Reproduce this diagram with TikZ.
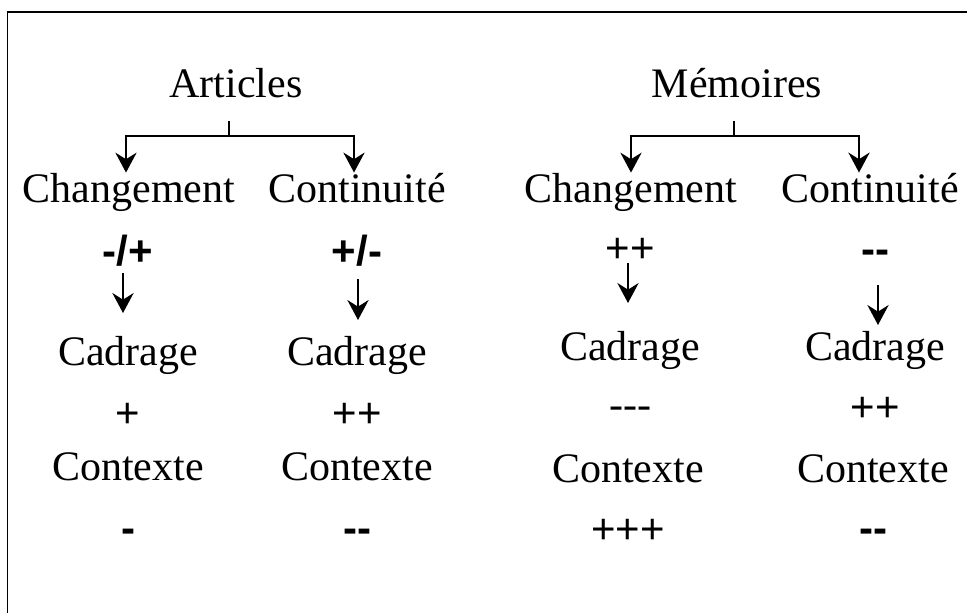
\documentclass[tikz,border=0pt]{standalone}
\usepackage{fontspec}
\setmainfont{Liberation Serif}[Ligatures=TeXOff]
\newfontfamily\sgnsans{Liberation Sans}[Ligatures=TeXOff]
\usetikzlibrary{arrows.meta}
\begin{document}
\begin{tikzpicture}[x=0.75pt,y=-0.75pt,
  lbl/.style={inner sep=0pt, anchor=base, font=\fontsize{31.5}{36}\selectfont},
  sgns/.style={lbl, font=\fontsize{31.5}{36}\selectfont\sgnsans},
  sgnb/.style={lbl, font=\fontsize{31.5}{36}\selectfont\sgnsans\bfseries},
  tree/.style={line width=1.1pt},
  tarrow/.style={tree, -{Stealth[length=15pt,width=16pt,inset=5pt]}},
  sarrow/.style={line width=0.9pt, -{Stealth[length=15pt,width=16pt,inset=5pt]}},
  frame/.style={line width=1pt}]
\useasboundingbox (0,0) rectangle (967,613);
% frame (top and left edges)
\draw[frame] (7.5,613) -- (7.5,12) -- (967,12);
% headers
\node[lbl] (art) at (236,98) {Articles};
\node[lbl] (mem) at (737,98) {Mémoires};
% level 1
\node[lbl] (ach) at (129,202) {Changement};
\node[lbl] (aco) at (357,202) {Continuité};
\node[lbl] (mch) at (631,202) {Changement};
\node[lbl] (mco) at (870,202) {Continuité};
% signs row 1
\node[sgnb] (s11) at (128,265) {-/+};
\node[sgnb] (s12) at (357,265) {+/-};
\node[sgns] (s13) at (630,262) {++};
\node[sgnb] (s14) at (875,263) {--};
% Cadrage
\node[lbl] (cad1) at (128,365) {Cadrage};
\node[lbl] (cad2) at (357,365) {Cadrage};
\node[lbl] (cad3) at (630,360) {Cadrage};
\node[lbl] (cad4) at (875,360) {Cadrage};
% signs row 2
\node[sgns] (s21) at (128,427) {+};
\node[sgns] (s22) at (357,427) {++};
\node[lbl]  (s23) at (630,418.5) {---};
\node[sgns] (s24) at (875,421) {++};
% Contexte
\node[lbl] (ctx1) at (128,480) {Contexte};
\node[lbl] (ctx2) at (357,480) {Contexte};
\node[lbl] (ctx3) at (628,482) {Contexte};
\node[lbl] (ctx4) at (873,482) {Contexte};
% signs row 3
\node[sgnb] (s31) at (128,542) {-};
\node[sgnb] (s32) at (357,542) {--};
\node[sgns] (s33) at (628,543) {+++};
\node[sgnb] (s34) at (873,542) {--};
% tree connectors
\coordinate (ast) at (229,121);
\coordinate (ajn) at (229,136);
\coordinate (mst) at (734,121);
\coordinate (mjn) at (734,136);
\draw[tree] (ast) -- (ajn);
\draw[tarrow] (ajn) -| ([xshift=-2.25pt]ach.north);
\draw[tarrow] (ajn) -| ([xshift=-2.25pt]aco.north);
\draw[tree] (mst) -- (mjn);
\draw[tarrow] (mjn) -| (mch.north);
\draw[tarrow] (mjn) -| ([xshift=-8.25pt]mco.north);
% small arrows
\coordinate (a1s) at (123,273); \coordinate (a1e) at (123,313);
\coordinate (a2s) at (358,279); \coordinate (a2e) at (358,320);
\coordinate (a3s) at (628,263); \coordinate (a3e) at (628,303);
\coordinate (a4s) at (878,285); \coordinate (a4e) at (878,325);
\draw[sarrow] (a1s) -- (a1e);
\draw[sarrow] (a2s) -- (a2e);
\draw[sarrow] (a3s) -- (a3e);
\draw[sarrow] (a4s) -- (a4e);
\end{tikzpicture}
\end{document}
